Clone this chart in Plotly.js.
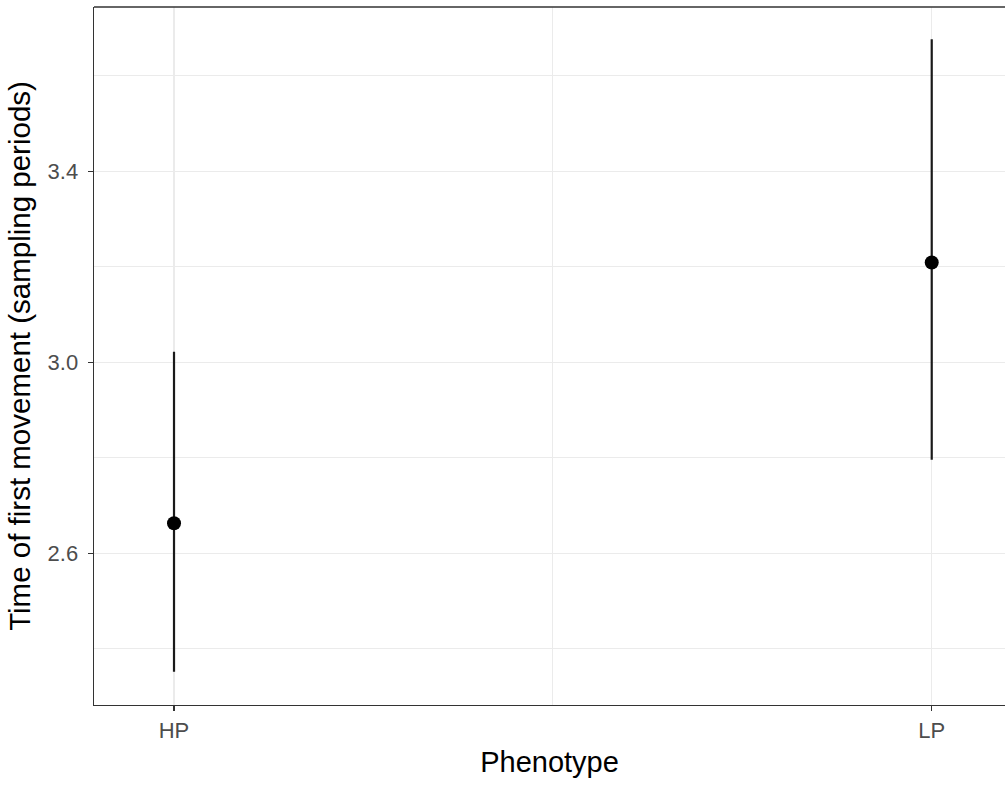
<!DOCTYPE html>
<html>
<head>
<meta charset="utf-8">
<script src="https://cdn.plot.ly/plotly-3.0.1.min.js"></script>
<style>html,body{margin:0;padding:0;background:#fff;}#chart{width:1005px;height:787px;}</style>
</head>
<body>
<div id="chart"></div>
<script>
const categories = ["HP", "LP"];
const categoryPos = [0, 1];
const meanValues = [2.663, 3.209];
const upperValues = [3.022, 3.676];
const lowerValues = [2.352, 2.796];

const errPlus = meanValues.map((m, i) => upperValues[i] - m);
const errMinus = meanValues.map((m, i) => m - lowerValues[i]);

const trace = {
  x: categoryPos,
  y: meanValues,
  type: "scatter",
  mode: "markers",
  marker: {color: "#000000", size: 14},
  error_y: {
    type: "data",
    symmetric: false,
    array: errPlus,
    arrayminus: errMinus,
    width: 0,
    thickness: 2.2,
    color: "#1a1a1a"
  },
  hoverinfo: "skip"
};

const layout = {
  width: 1005,
  height: 787,
  margin: {l: 94, r: 0, t: 7, b: 82},
  paper_bgcolor: "#ffffff",
  plot_bgcolor: "#ffffff",
  showlegend: false,
  font: {family: "Liberation Sans, Arial, sans-serif"},
  xaxis: {
    range: [-0.1056, 1.0967],
    tickvals: categoryPos,
    ticktext: categories,
    showgrid: true,
    gridcolor: "#ebebeb",
    gridwidth: 1.2,
    minor: {tickvals: [0.5], showgrid: true, gridcolor: "#ebebeb", gridwidth: 1.2, ticks: ""},
    zeroline: false,
    showline: true,
    linecolor: "#333333",
    linewidth: 1.4,
    ticks: "outside",
    ticklen: 5,
    tickwidth: 1.3,
    tickcolor: "#333333",
    tickfont: {size: 22, color: "#4d4d4d"},
    title: {text: "Phenotype", font: {size: 29, color: "#000000"}, standoff: 10}
  },
  yaxis: {
    range: [2.2826, 3.7437],
    tickvals: [2.6, 3.0, 3.4],
    ticktext: ["2.6", "3.0", "3.4"],
    showgrid: true,
    gridcolor: "#ebebeb",
    gridwidth: 1.2,
    minor: {tickvals: [2.4, 2.8, 3.2, 3.6], showgrid: true, gridcolor: "#ebebeb", gridwidth: 1.0, ticks: ""},
    zeroline: false,
    showline: true,
    linecolor: "#333333",
    linewidth: 1.4,
    ticks: "outside",
    ticklen: 5,
    tickwidth: 1.3,
    tickcolor: "#333333",
    ticklabelstandoff: 5,
    tickfont: {size: 22, color: "#4d4d4d"},
    title: {text: "Time of first movement (sampling periods)", font: {size: 29.5, color: "#000000"}, standoff: 8}
  },
  shapes: [{
    type: "line", xref: "paper", yref: "paper",
    x0: 0, x1: 1, y0: 1, y1: 1,
    line: {color: "#333333", width: 1.4}
  }]
};

Plotly.newPlot("chart", [trace], layout, {displayModeBar: false, staticPlot: true});
</script>
</body>
</html>
